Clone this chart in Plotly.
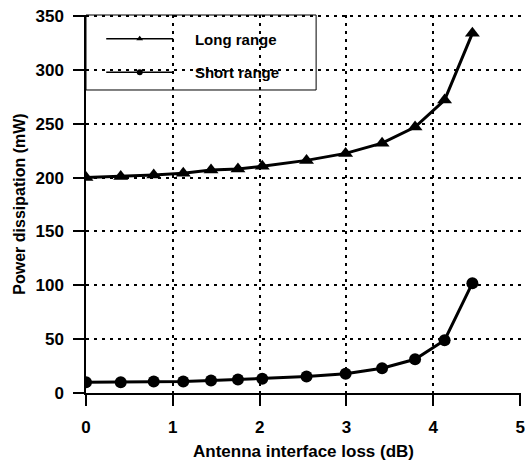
import plotly.graph_objects as go

loss_db = [0, 0.40, 0.78, 1.12, 1.44, 1.75, 2.03, 2.54, 2.99, 3.41, 3.79, 4.13, 4.45]
long_range = [200, 201, 202.5, 204, 207, 208, 210.5, 216, 222.5, 232, 247, 272, 334]
short_range = [10, 10, 10.7, 10.7, 11.6, 12.5, 13.2, 15.3, 17.8, 23, 31.3, 49, 102]
x_ticks = [0, 1, 2, 3, 4, 5]
y_ticks = [0, 50, 100, 150, 200, 250, 300, 350]

FONT = "Liberation Sans, Arial, sans-serif"
PAD = "&nbsp;" * 4

fig = go.Figure()
fig.add_trace(go.Scatter(
    x=loss_db, y=long_range, mode="lines+markers", showlegend=False,
    line=dict(color="black", width=3),
    marker=dict(symbol="triangle-up", size=13, color="black"),
))
fig.add_trace(go.Scatter(
    x=loss_db, y=short_range, mode="lines+markers", showlegend=False,
    line=dict(color="black", width=3),
    marker=dict(symbol="circle", size=12, color="black"),
))
# legend-only entries (thin line, small marker as in the reference legend)
fig.add_trace(go.Scatter(
    x=[None], y=[None], mode="lines+markers", name=PAD + "Long range", legendgroup="a",
    line=dict(color="black", width=1.5),
    marker=dict(symbol="triangle-up", size=6, color="black"),
))
fig.add_trace(go.Scatter(
    x=[None], y=[None], mode="lines+markers", name=PAD + "Short range", legendgroup="b",
    line=dict(color="black", width=1.5),
    marker=dict(symbol="circle", size=6, color="black"),
))

axis_common = dict(
    showline=True, linecolor="black", linewidth=1.5,
    ticks="outside", ticklen=11, tickwidth=1.5, tickcolor="black",
    showgrid=True, gridcolor="black", gridwidth=1.5, griddash="3px,5px",
    zeroline=False, mirror=False, automargin=False,
    tickfont=dict(family=FONT, size=17, color="black", weight="bold"),
)

fig.update_xaxes(
    range=[0, 5.01], tickvals=x_ticks, ticklabelstandoff=7,
    title=dict(text="<b>Antenna interface loss (dB)</b>", font=dict(family=FONT, size=17, color="black"), standoff=9),
    **axis_common,
)
fig.update_yaxes(
    range=[0, 351], tickvals=y_ticks, ticklabelstandoff=6,
    title=dict(text="<b>Power dissipation (mW)</b>", font=dict(family=FONT, size=16, color="black"), standoff=6),
    **axis_common,
)

# legend frame
fig.add_shape(
    type="rect", xref="paper", yref="paper",
    x0=0, x1=0.529, y0=0.8016, y1=1.0,
    line=dict(color="black", width=1), fillcolor="white", layer="between",
)

fig.update_layout(
    width=525, height=465,
    margin=dict(l=86, r=4, t=15, b=72),
    paper_bgcolor="white", plot_bgcolor="white",
    font=dict(family=FONT, color="black"),
    legend=dict(
        x=0.035, y=0.98, xanchor="left", yanchor="top",
        bgcolor="rgba(0,0,0,0)", borderwidth=0,
        font=dict(family=FONT, size=15, color="black", weight="bold"),
        itemwidth=67, traceorder="grouped", tracegroupgap=11,
    ),
)

fig.write_html("out.html")
